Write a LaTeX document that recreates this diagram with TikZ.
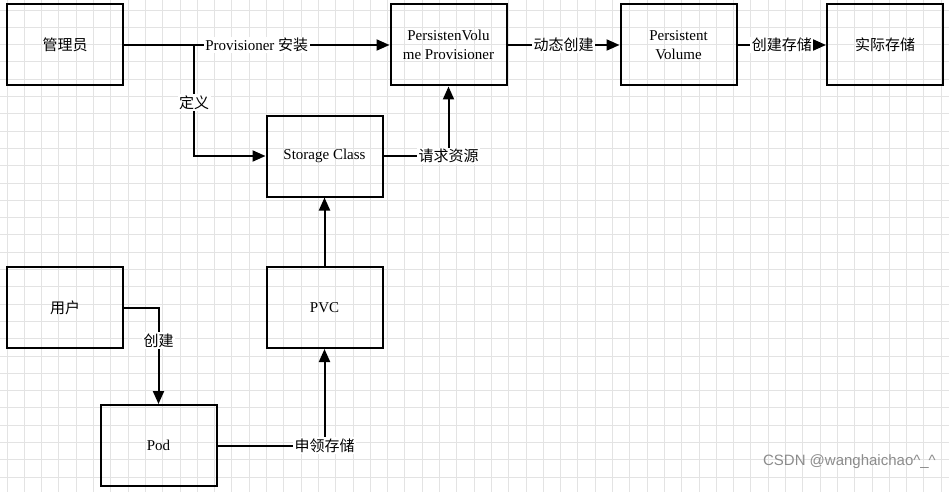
\documentclass[tikz,border=0pt]{standalone}
\usepackage{fontspec}
\setmainfont{Liberation Serif}
\newfontfamily\cjk{Noto Sans CJK SC}
\newfontfamily\wmfont{Liberation Sans}
\usetikzlibrary{arrows.meta}
\begin{document}
\begin{tikzpicture}[x=1pt,y=-1pt,
  gridline/.style={draw=black!11, line width=0.9pt},
  box/.style={draw, line width=2pt, minimum width=116pt, minimum height=81pt, inner sep=0pt, align=center, font=\fontsize{15}{19}\selectfont},
  arr/.style={line width=2pt, -{Triangle[length=13pt,width=11pt]}},
  lab/.style={fill=white, inner sep=1.5pt, font=\fontsize{15}{17}\selectfont}]
\useasboundingbox (0,0) rectangle (949,492);
\fill[white] (0,0) rectangle (949,492);
\foreach \i in {0,...,55} \draw[gridline] ({7+\i*17.3},0) -- ({7+\i*17.3},492);
\foreach \j in {0,...,29} \draw[gridline] (0,{10+\j*17.3}) -- (949,{10+\j*17.3});

\node[box] (admin) at (65,45) {\cjk 管理员};
\node[box] (prov) at (448.5,45) {PersistenVolu\\me Provisioner};
\node[box] (pv) at (678.5,45) {Persistent\\Volume};
\node[box] (real) at (885,45) {\cjk 实际存储};
\node[box] (sc) at (324.5,156) {Storage Class};
\node[box] (pvc) at (324.5,307.5) {PVC};
\node[box] (user) at (65,307.5) {\cjk 用户};
\node[box] (pod) at (158.5,445.5) {Pod};

\coordinate (br) at (194,45);
\draw[arr] (admin) -- node[lab] {Provisioner {\cjk 安装}} (prov);
\draw[arr] (br) |- node[lab,pos=0.26] {\cjk 定义} (sc);
\draw[arr] (sc.east) -| node[lab,pos=0.5] {\cjk 请求资源} (prov.south);
\draw[arr] (prov) -- node[lab] {\cjk 动态创建} (pv);
\draw[arr] (pv) -- node[lab] {\cjk 创建存储} (real);
\draw[arr] (user.east) -| node[lab,pos=0.67] {\cjk 创建} (pod.north);
\draw[arr] (pod.east) -| node[lab,pos=0.5] {\cjk 申领存储} (pvc.south);
\draw[arr] (pvc) -- (sc);

\node[text=black!45, font=\wmfont\fontsize{15}{15}\selectfont, anchor=east, inner sep=0pt] (wm) at (936,462) {CSDN @wanghaichao\textasciicircum\_\textasciicircum};
\end{tikzpicture}
\end{document}
